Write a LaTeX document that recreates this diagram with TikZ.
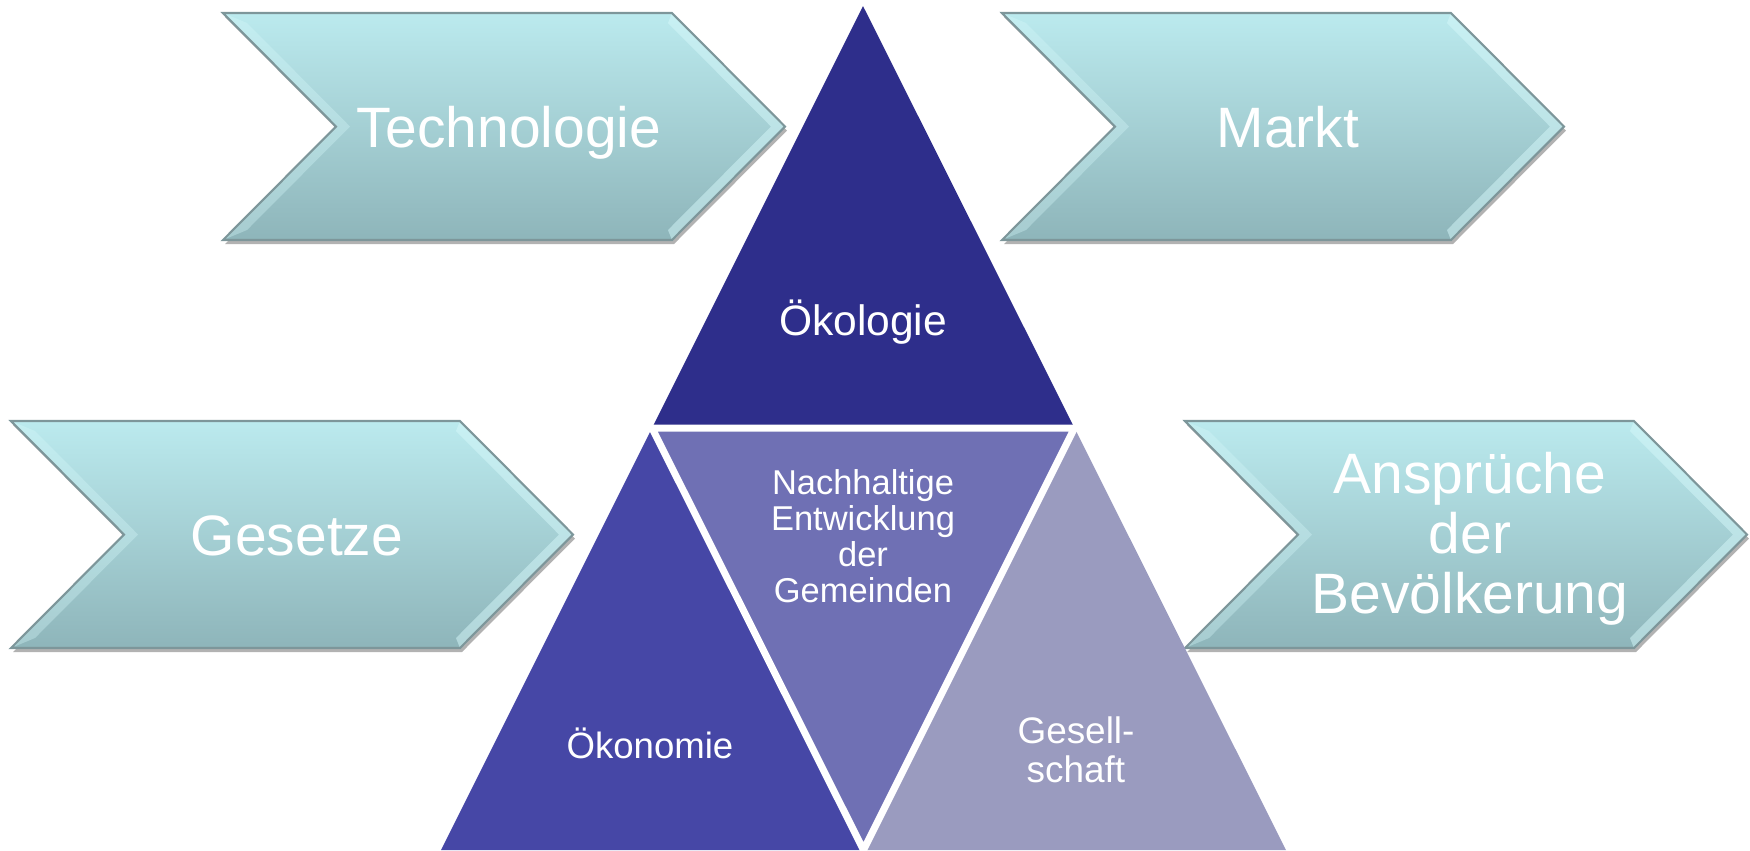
\documentclass[tikz,border=0pt]{standalone}
\usepackage{fontspec}
\setmainfont{Liberation Sans}

\definecolor{oekologie}{RGB}{46,46,139}
\definecolor{nachhaltig}{RGB}{111,112,180}
\definecolor{oekonomie}{RGB}{70,71,166}
\definecolor{gesellschaft}{RGB}{154,155,191}
\definecolor{pfeiloben}{RGB}{187,234,238}
\definecolor{pfeilunten}{RGB}{142,181,186}
\definecolor{pfeilhell}{RGB}{214,248,250}
\definecolor{pfeilrand}{RGB}{125,150,154}

\begin{document}
\begin{tikzpicture}[x=0.01cm, y=-0.01cm,
    pfeiltext/.style={text=white, font=\fontsize{16.2}{17}\selectfont, align=center, inner sep=0pt, anchor=base},
    dreitext/.style={text=white, align=center, inner sep=0pt, anchor=base}]
    \def\pfeil#1{
    \begin{scope}[shift={#1}]
    \fill[black, opacity=0.3] (2,4) -- (451,4) -- (564,117.5) -- (451,231) -- (2,231) -- (115,117.5) -- cycle;
    \fill[top color=pfeiloben, bottom color=pfeilunten] (0,0) -- (449,0) -- (562,113.5) -- (449,227) -- (0,227) -- (113,113.5) -- cycle;
    \fill[pfeilhell, opacity=0.5] (449,0) -- (562,113.5) -- (449,227) -- (445,217) -- (548,113.5) -- (445,10) -- cycle;
    \fill[pfeilhell, opacity=0.35] (0,0) -- (113,113.5) -- (0,227) -- (24,217) -- (127,113.5) -- (24,10) -- cycle;
    \draw[pfeilrand, line width=0.6pt] (0,0) -- (449,0) -- (562,113.5) -- (449,227) -- (0,227) -- (113,113.5) -- cycle;
    \end{scope}
    }

    \useasboundingbox (0,0) rectangle (1750,850);

    \pfeil{(223,13)};
    \pfeil{(1002,13)};
    \pfeil{(11,421)};
    \pfeil{(1185,421)};

    \node[pfeiltext] (technologie) at (509,147) {Technologie};
    \node[pfeiltext] (markt) at (1288,147) {Markt};
    \node[pfeiltext] (gesetze) at (297,555) {Gesetze};
    \node[pfeiltext] (ansprueche) at (1470,613) {Ansprüche\\der\\Bevölkerung};

    % Dreieck
    \fill[oekologie] (863,6) -- (652,428) -- (1074.5,428) -- cycle;
    \fill[oekonomie] (652,428) -- (441,850) -- (863.5,850) -- cycle;
    \fill[gesellschaft] (1074.5,428) -- (863.5,850) -- (1286,850) -- cycle;
    \fill[nachhaltig] (652,428) -- (1074.5,428) -- (863.5,850) -- cycle;
    \draw[white, line width=2pt] (652,428) -- (1074.5,428) -- (863.5,850) -- cycle;

    \node[dreitext, font=\fontsize{12.1}{13}\selectfont] (oeko) at (863,335) {Ökologie};
    \node[dreitext, font=\fontsize{9.8}{10.2}\selectfont] (mitte) at (863,602) {Nachhaltige\\Entwicklung\\der\\Gemeinden};
    \node[dreitext, font=\fontsize{10.4}{11}\selectfont] (oekon) at (650,758) {Ökonomie};
    \node[dreitext, font=\fontsize{10.5}{11}\selectfont] (gesell) at (1076,782) {Gesell-\\schaft};

\end{tikzpicture}
\end{document}
